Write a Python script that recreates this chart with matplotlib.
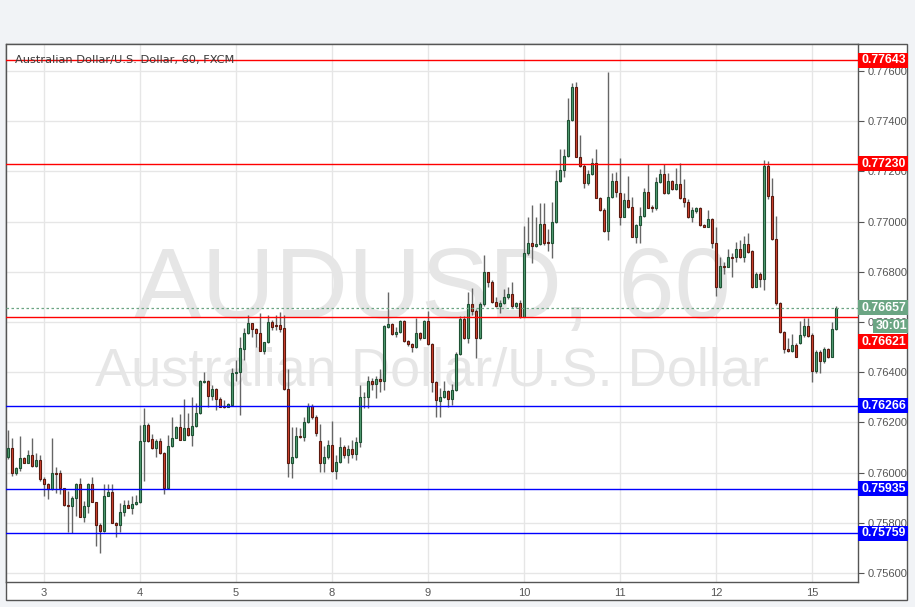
import matplotlib
matplotlib.use("Agg")
import matplotlib.pyplot as plt
from matplotlib.patches import Rectangle
import numpy as np

# -------------------------------
# DATA (hourly AUD/USD candles)
# -------------------------------
opens = [
    0.76061, 0.76097, 0.76000, 0.76017, 0.76057, 0.76040, 0.76069, 0.76028, 0.76049, 0.75974,
    0.75954, 0.75934, 0.75998, 0.75998, 0.75938, 0.75870, 0.75865, 0.75899, 0.75955, 0.75825,
    0.75867, 0.75955, 0.75882, 0.75790, 0.75769, 0.75905, 0.75923, 0.75801, 0.75793, 0.75842,
    0.75871, 0.75857, 0.75875, 0.75881, 0.76126, 0.76189, 0.76133, 0.76097, 0.76126, 0.76077,
    0.75938, 0.76105, 0.76137, 0.76181, 0.76130, 0.76178, 0.76150, 0.76186, 0.76236, 0.76361,
    0.76365, 0.76307, 0.76333, 0.76292, 0.76266, 0.76263, 0.76270, 0.76396, 0.76401, 0.76494,
    0.76555, 0.76595, 0.76574, 0.76555, 0.76486, 0.76519, 0.76600, 0.76587, 0.76587, 0.76575,
    0.76332, 0.76037, 0.76063, 0.76147, 0.76141, 0.76201, 0.76267, 0.76221, 0.76125, 0.76037,
    0.76063, 0.76109, 0.76008, 0.76041, 0.76101, 0.76070, 0.76095, 0.76075, 0.76120, 0.76300,
    0.76300, 0.76365, 0.76352, 0.76372, 0.76364, 0.76582, 0.76591, 0.76551, 0.76560, 0.76604,
    0.76525, 0.76511, 0.76499, 0.76555, 0.76538, 0.76604, 0.76511, 0.76360, 0.76287, 0.76300,
    0.76325, 0.76292, 0.76328, 0.76471, 0.76612, 0.76535, 0.76671, 0.76644, 0.76538, 0.76671,
    0.76798, 0.76761, 0.76679, 0.76665, 0.76675, 0.76699, 0.76712, 0.76664, 0.76674, 0.76621,
    0.76874, 0.76916, 0.76904, 0.76910, 0.76990, 0.76917, 0.76914, 0.76997, 0.77162, 0.77206,
    0.77261, 0.77405, 0.77538, 0.77259, 0.77223, 0.77153, 0.77188, 0.77232, 0.77095, 0.77046,
    0.76964, 0.77099, 0.77162, 0.77113, 0.77020, 0.77086, 0.77059, 0.76940, 0.76986, 0.77022,
    0.77117, 0.77059, 0.77053, 0.77157, 0.77188, 0.77113, 0.77162, 0.77130, 0.77148, 0.77093,
    0.77079, 0.77019, 0.77043, 0.77053, 0.76986, 0.76980, 0.77009, 0.76913, 0.76738, 0.76823,
    0.76820, 0.76860, 0.76857, 0.76889, 0.76860, 0.76909, 0.76883, 0.76741, 0.76791, 0.76770,
    0.77221, 0.77103, 0.76929, 0.76674, 0.76561, 0.76491, 0.76486, 0.76508, 0.76517, 0.76548,
    0.76584, 0.76548, 0.76406, 0.76482, 0.76446, 0.76491, 0.76462, 0.76574,
]
highs = [
    0.76170, 0.76138, 0.76024, 0.76146, 0.76064, 0.76090, 0.76138, 0.76077, 0.76071, 0.75984,
    0.75960, 0.76138, 0.76021, 0.76011, 0.75938, 0.75927, 0.75908, 0.75960, 0.75979, 0.75885,
    0.75960, 0.75982, 0.75883, 0.75798, 0.75955, 0.75955, 0.75955, 0.75804, 0.75878, 0.75891,
    0.75889, 0.75908, 0.75910, 0.76190, 0.76256, 0.76197, 0.76154, 0.76133, 0.76137, 0.76084,
    0.76150, 0.76223, 0.76186, 0.76234, 0.76294, 0.76236, 0.76300, 0.76276, 0.76369, 0.76402,
    0.76369, 0.76349, 0.76336, 0.76303, 0.76290, 0.76276, 0.76416, 0.76449, 0.76539, 0.76575,
    0.76628, 0.76598, 0.76578, 0.76635, 0.76522, 0.76628, 0.76606, 0.76628, 0.76639, 0.76628,
    0.76412, 0.76183, 0.76183, 0.76177, 0.76223, 0.76276, 0.76274, 0.76230, 0.76194, 0.76104,
    0.76130, 0.76207, 0.76070, 0.76143, 0.76110, 0.76110, 0.76130, 0.76140, 0.76349, 0.76323,
    0.76383, 0.76375, 0.76383, 0.76412, 0.76588, 0.76718, 0.76595, 0.76579, 0.76608, 0.76608,
    0.76529, 0.76515, 0.76615, 0.76562, 0.76608, 0.76644, 0.76515, 0.76363, 0.76336, 0.76365,
    0.76329, 0.76353, 0.76482, 0.76624, 0.76624, 0.76721, 0.76734, 0.76650, 0.76681, 0.76867,
    0.76801, 0.76768, 0.76701, 0.76688, 0.76730, 0.76741, 0.76758, 0.76680, 0.76687, 0.76984,
    0.77020, 0.77066, 0.77020, 0.77075, 0.77073, 0.76969, 0.77079, 0.77206, 0.77288, 0.77288,
    0.77491, 0.77551, 0.77558, 0.77345, 0.77229, 0.77206, 0.77252, 0.77288, 0.77099, 0.77053,
    0.77597, 0.77192, 0.77199, 0.77252, 0.77113, 0.77182, 0.77099, 0.76990, 0.77059, 0.77133,
    0.77229, 0.77066, 0.77179, 0.77208, 0.77229, 0.77192, 0.77166, 0.77212, 0.77232, 0.77168,
    0.77092, 0.77059, 0.77059, 0.77057, 0.76990, 0.77046, 0.77013, 0.76980, 0.76857, 0.76840,
    0.76889, 0.76873, 0.76920, 0.76926, 0.76942, 0.76953, 0.76887, 0.76800, 0.76800, 0.77245,
    0.77243, 0.77172, 0.77022, 0.76681, 0.76564, 0.76535, 0.76552, 0.76517, 0.76605, 0.76614,
    0.76614, 0.76555, 0.76488, 0.76488, 0.76501, 0.76495, 0.76601, 0.76663,
]
lows = [
    0.76055, 0.75987, 0.75991, 0.76008, 0.76040, 0.76037, 0.76024, 0.76024, 0.75968, 0.75908,
    0.75894, 0.75931, 0.75918, 0.75915, 0.75868, 0.75762, 0.75758, 0.75829, 0.75825, 0.75805,
    0.75838, 0.75881, 0.75709, 0.75681, 0.75765, 0.75905, 0.75798, 0.75745, 0.75762, 0.75829,
    0.75857, 0.75835, 0.75870, 0.75878, 0.75968, 0.76120, 0.76093, 0.76064, 0.76074, 0.75914,
    0.75935, 0.76102, 0.76137, 0.76130, 0.76130, 0.76146, 0.76104, 0.76183, 0.76234, 0.76356,
    0.76263, 0.76290, 0.76250, 0.76260, 0.76256, 0.76260, 0.76267, 0.76363, 0.76231, 0.76449,
    0.76553, 0.76542, 0.76502, 0.76485, 0.76473, 0.76517, 0.76568, 0.76570, 0.76562, 0.76329,
    0.75981, 0.75977, 0.76060, 0.76137, 0.76124, 0.76197, 0.76215, 0.76146, 0.76004, 0.76004,
    0.76053, 0.76004, 0.75974, 0.76037, 0.76060, 0.76040, 0.76060, 0.76050, 0.76100, 0.76256,
    0.76256, 0.76330, 0.76296, 0.76323, 0.76330, 0.76575, 0.76548, 0.76542, 0.76558, 0.76522,
    0.76505, 0.76482, 0.76495, 0.76529, 0.76535, 0.76508, 0.76323, 0.76220, 0.76223, 0.76296,
    0.76263, 0.76270, 0.76325, 0.76469, 0.76531, 0.76515, 0.76628, 0.76458, 0.76534, 0.76662,
    0.76741, 0.76675, 0.76661, 0.76635, 0.76672, 0.76691, 0.76655, 0.76655, 0.76615, 0.76618,
    0.76867, 0.76834, 0.76900, 0.76907, 0.76907, 0.76884, 0.76854, 0.76993, 0.77159, 0.77179,
    0.77259, 0.77402, 0.77256, 0.77219, 0.77133, 0.77146, 0.77186, 0.77093, 0.77043, 0.76960,
    0.76927, 0.77093, 0.77099, 0.76986, 0.77017, 0.77056, 0.76937, 0.76916, 0.76916, 0.77020,
    0.77053, 0.77040, 0.77046, 0.77153, 0.77110, 0.77110, 0.77126, 0.77126, 0.77089, 0.77059,
    0.77013, 0.77000, 0.77033, 0.76982, 0.76977, 0.76977, 0.76893, 0.76703, 0.76734, 0.76791,
    0.76818, 0.76780, 0.76840, 0.76853, 0.76840, 0.76876, 0.76734, 0.76738, 0.76741, 0.76727,
    0.77092, 0.76926, 0.76667, 0.76557, 0.76478, 0.76482, 0.76482, 0.76459, 0.76514, 0.76541,
    0.76541, 0.76362, 0.76398, 0.76395, 0.76438, 0.76455, 0.76459, 0.76568,
]
closes = [
    0.76097, 0.76000, 0.76017, 0.76057, 0.76040, 0.76069, 0.76028, 0.76049, 0.75974, 0.75954,
    0.75934, 0.75998, 0.75996, 0.75938, 0.75870, 0.75865, 0.75899, 0.75955, 0.75825, 0.75867,
    0.75955, 0.75882, 0.75790, 0.75769, 0.75907, 0.75923, 0.75801, 0.75793, 0.75842, 0.75871,
    0.75857, 0.75875, 0.75882, 0.76126, 0.76189, 0.76126, 0.76097, 0.76126, 0.76077, 0.75938,
    0.76105, 0.76137, 0.76181, 0.76130, 0.76178, 0.76150, 0.76186, 0.76236, 0.76363, 0.76365,
    0.76307, 0.76333, 0.76292, 0.76263, 0.76262, 0.76272, 0.76396, 0.76401, 0.76495, 0.76558,
    0.76595, 0.76574, 0.76555, 0.76486, 0.76519, 0.76600, 0.76582, 0.76583, 0.76574, 0.76332,
    0.76037, 0.76063, 0.76146, 0.76141, 0.76201, 0.76267, 0.76221, 0.76157, 0.76037, 0.76063,
    0.76109, 0.76008, 0.76041, 0.76101, 0.76070, 0.76095, 0.76075, 0.76120, 0.76302, 0.76303,
    0.76363, 0.76352, 0.76372, 0.76364, 0.76584, 0.76591, 0.76551, 0.76560, 0.76604, 0.76525,
    0.76511, 0.76499, 0.76555, 0.76538, 0.76604, 0.76511, 0.76360, 0.76290, 0.76300, 0.76325,
    0.76292, 0.76328, 0.76471, 0.76612, 0.76535, 0.76671, 0.76644, 0.76538, 0.76671, 0.76798,
    0.76761, 0.76679, 0.76665, 0.76675, 0.76699, 0.76712, 0.76664, 0.76674, 0.76621, 0.76874,
    0.76916, 0.76904, 0.76910, 0.76990, 0.76913, 0.76914, 0.76997, 0.77162, 0.77206, 0.77261,
    0.77405, 0.77538, 0.77259, 0.77223, 0.77153, 0.77188, 0.77232, 0.77095, 0.77046, 0.76964,
    0.77099, 0.77162, 0.77117, 0.77020, 0.77086, 0.77059, 0.76940, 0.76986, 0.77022, 0.77117,
    0.77056, 0.77053, 0.77157, 0.77188, 0.77113, 0.77162, 0.77130, 0.77148, 0.77093, 0.77079,
    0.77019, 0.77046, 0.77053, 0.76986, 0.76980, 0.77009, 0.76913, 0.76738, 0.76823, 0.76820,
    0.76857, 0.76856, 0.76889, 0.76860, 0.76909, 0.76880, 0.76741, 0.76791, 0.76770, 0.77221,
    0.77103, 0.76929, 0.76674, 0.76561, 0.76491, 0.76486, 0.76508, 0.76462, 0.76548, 0.76584,
    0.76545, 0.76406, 0.76482, 0.76446, 0.76491, 0.76462, 0.76574, 0.76654,
]

day_labels = ["3", "4", "5", "8", "9", "10", "11", "12", "15"]
day_first_bar = [9, 33, 57, 81, 105, 129, 153, 177, 201]

price_ticks = [0.756, 0.758, 0.760, 0.762, 0.764, 0.766, 0.768, 0.770, 0.772, 0.774, 0.776]

resistance = [0.77643, 0.77230, 0.76621]
support = [0.76266, 0.75935, 0.75759]
last_price = 0.76657
countdown = "30:01"

title = "Australian Dollar/U.S. Dollar, 60, FXCM"
watermark_big = "AUDUSD, 60"
watermark_small = "Australian Dollar/U.S. Dollar"

# -------------------------------
# STYLE
# -------------------------------
W, H = 915, 607
BG = "#f1f3f6"
FRAME = "#555555"
GRID = "#e6e6e6"
UP_FILL, UP_EDGE = "#53a076", "#1f5234"
DN_FILL, DN_EDGE = "#d4432f", "#5a1a10"
WICK = "#666666"
RED, BLUE, GREEN = "#ff0000", "#0000ff", "#6ba583"
plt.rcParams["font.family"] = ["Liberation Sans", "DejaVu Sans"]


def px_x(x):
    return x / W


def px_y(y):
    return 1 - y / H


fig = plt.figure(figsize=(W / 100, H / 100), dpi=100, facecolor=BG)

# outer white frame (plot + price scale + time scale)
fig.add_artist(Rectangle((px_x(6), px_y(600)), px_x(907) - px_x(6), px_y(44) - px_y(600),
                         transform=fig.transFigure, facecolor="white",
                         edgecolor=FRAME, linewidth=1, zorder=-1))

ax = fig.add_axes([px_x(6), px_y(582), px_x(858) - px_x(6), px_y(44) - px_y(582)])
ax.set_facecolor("white")
for s in ax.spines.values():
    s.set_color(FRAME)
    s.set_linewidth(1)

n = len(closes)
idx = np.arange(n)
o = np.array(opens)
c = np.array(closes)
up = c >= o

ax.vlines(idx, lows, highs, color=WICK, linewidth=1, zorder=3)
body_lo = np.minimum(o, c)
body_h = np.maximum(np.abs(c - o), 0.00002)
ax.bar(idx[up], body_h[up], bottom=body_lo[up], width=0.62,
       color=UP_FILL, edgecolor=UP_EDGE, linewidth=0.8, zorder=4)
ax.bar(idx[~up], body_h[~up], bottom=body_lo[~up], width=0.62,
       color=DN_FILL, edgecolor=DN_EDGE, linewidth=0.8, zorder=4)

ax.set_xlim(-0.5, 212.5)
ax.set_ylim(0.755641, 0.777076)

ax.set_xticks(day_first_bar)
ax.set_xticklabels(day_labels)
ax.set_yticks(price_ticks)
ax.set_yticklabels([f"{p:.5f}" for p in price_ticks])
ax.yaxis.tick_right()
ax.tick_params(axis="y", direction="out", length=4, width=0.8, color=FRAME,
               labelsize=8, labelcolor="#555555", pad=3)
ax.tick_params(axis="x", length=0, labelsize=8, labelcolor="#555555", pad=4)
ax.grid(True, color=GRID, linewidth=1, zorder=0)
ax.set_axisbelow(True)

# watermark
ax.text(0.5, (582 - 318) / 538, watermark_big, transform=ax.transAxes, ha="center",
        va="baseline", fontsize=73, color="#e6e6e6", zorder=1)
ax.text(0.5, (582 - 386) / 538, watermark_small, transform=ax.transAxes, ha="center",
        va="baseline", fontsize=39, color="#e6e6e6", zorder=1)

ax.text((15 - 6) / 852, (582 - 60) / 538, title, transform=ax.transAxes, ha="left",
        va="center", fontsize=8.2, color="#3a3a3a", family="DejaVu Sans", zorder=6)

# horizontal levels
for p in resistance:
    ax.axhline(p, color=RED, linewidth=1, zorder=5)
for p in support:
    ax.axhline(p, color=BLUE, linewidth=1, zorder=5)
ax.axhline(last_price, color=GREEN, linewidth=0.9, linestyle=(0, (2, 2)), zorder=5)


# price scale labels
def price_to_py(p):
    y_disp = ax.transData.transform((0, p))[1]
    return H - y_disp


def tag(y_center, text, color, x0=858, x1=908, h=15):
    fig.add_artist(Rectangle((px_x(x0), px_y(y_center + h / 2)), px_x(x1) - px_x(x0),
                             px_y(y_center - h / 2) - px_y(y_center + h / 2),
                             transform=fig.transFigure, facecolor=color,
                             edgecolor="none", zorder=5))
    fig.text(px_x((x0 + x1) / 2 + 1), px_y(y_center), text, ha="center", va="center",
             color="white", fontsize=8.8, fontweight="bold", zorder=6)


for p in resistance:
    yc = price_to_py(p)
    if abs(p - last_price) < 0.0005:
        yc += 25  # pushed below the countdown box, as the platform stacks labels
    tag(yc, f"{p:.5f}", RED)
for p in support:
    tag(price_to_py(p), f"{p:.5f}", BLUE)
y_last = price_to_py(last_price)
tag(y_last, f"{last_price:.5f}", GREEN)
tag(y_last + 18, countdown, GREEN, x0=873, h=14)

fig.savefig("out.png", dpi=100, facecolor=BG)
